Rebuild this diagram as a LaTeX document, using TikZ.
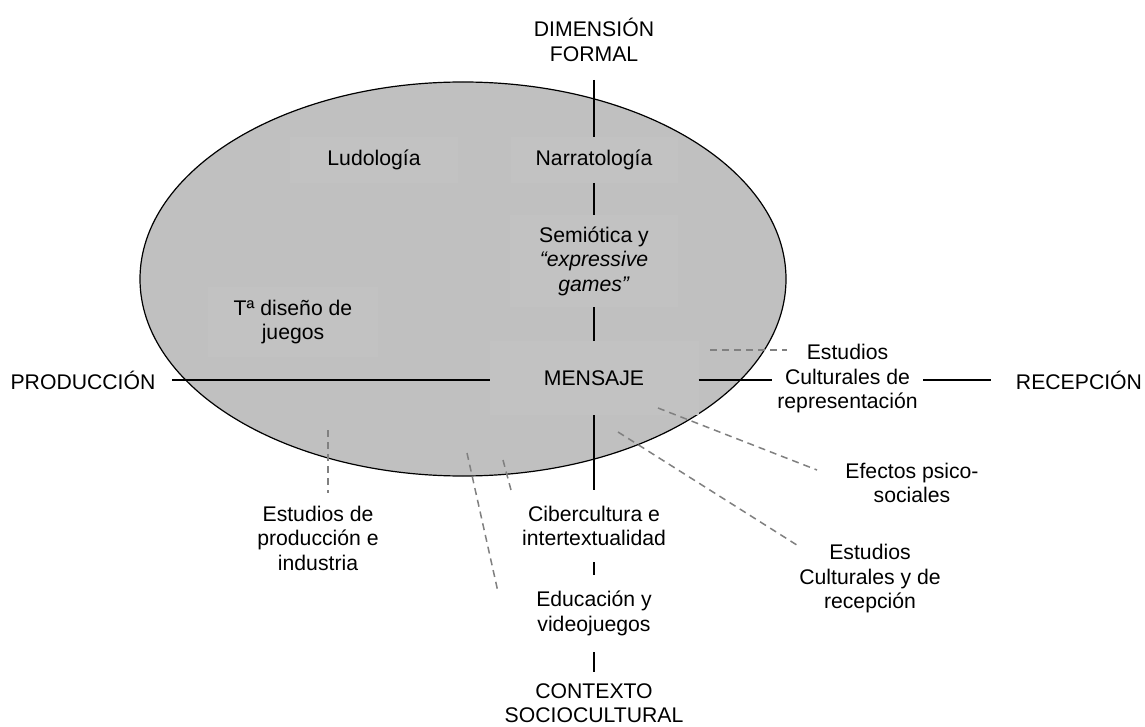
\documentclass[tikz,border=0pt]{standalone}
\usepackage{fontspec}
\setmainfont{Liberation Sans}
\definecolor{ellgray}{RGB}{192,192,192}
\definecolor{boxgray}{RGB}{194,194,194}
\definecolor{dashgray}{RGB}{128,128,128}
\newcommand{\lblfont}{\fontsize{21.2}{24.5}\selectfont}
\begin{document}
\begin{tikzpicture}[x=1pt,y=-1pt,
  lbl/.style={align=center, inner sep=0pt, outer sep=0pt, font=\lblfont},
  inbox/.style={lbl, fill=boxgray},
  axisline/.style={line width=2pt, black},
  dashline/.style={line width=1.5pt, dashgray, dash pattern=on 7pt off 5pt}]
\useasboundingbox (0,0) rectangle (1145,727);
\fill[white] (0,0) rectangle (1145,727);
% ellipse
\draw[fill=ellgray, line width=1.2pt] (463,279) ellipse [x radius=323, y radius=197];
% nodes inside ellipse
\node[inbox, minimum width=168pt, minimum height=46pt] (ludo) at (374,160) {Ludología};
\node[inbox, minimum width=167pt, minimum height=46pt] (narr) at (594,160) {Narratología};
\node[inbox, minimum width=168pt, minimum height=92pt] (semio) at (594,261) {Semiótica y\\\textit{“expressive}\\\textit{games”}};
\node[inbox, minimum width=209pt, minimum height=74pt] (mens) at (594,378) {MENSAJE};
\node[inbox, minimum width=170pt, minimum height=70pt] (tdis) at (293,322) {Tª diseño de\\juegos};
% outer nodes
\node[lbl, minimum width=170pt, minimum height=80pt] (dim) at (594,40) {DIMENSIÓN\\FORMAL};
\node[lbl, minimum width=178pt, minimum height=40pt] (prod) at (83,380) {PRODUCCIÓN};
\node[lbl, minimum width=176pt, minimum height=40pt] (recep) at (1079,380) {RECEPCIÓN};
\node[lbl, minimum width=151pt, minimum height=74pt] (cultrep) at (847.5,379) {Estudios\\Culturales de\\representación};
\node[lbl, minimum width=170pt, minimum height=72pt] (ciber) at (594,526) {Cibercultura e\\intertextualidad};
\node[lbl, minimum width=170pt, minimum height=77pt] (educ) at (594,613.5) {Educación y\\videojuegos};
\node[lbl, minimum width=200pt, minimum height=62pt] (ctx) at (594,703) {CONTEXTO\\SOCIOCULTURAL};
\node[lbl] (prodind) at (318,538) {Estudios de\\producción e\\industria};
\node[lbl] (efectos) at (912,483) {Efectos psico-\\sociales};
\node[lbl] (ecr) at (870,579) {Estudios\\Culturales y de\\recepción};
% dashed connectors
\coordinate (d1a) at (710,350); \coordinate (d1b) at (787,350);
\coordinate (d2a) at (658,408); \coordinate (d2b) at (817,470);
\coordinate (d3a) at (618,432); \coordinate (d3b) at (800,547);
\coordinate (d4a) at (467,453); \coordinate (d4b) at (498,592);
\coordinate (d5a) at (503,460); \coordinate (d5b) at (511,490);
\coordinate (d6a) at (328,430); \coordinate (d6b) at (328,493);
\draw[dashline] (d1a) -- (d1b);
\draw[dashline] (d2a) -- (d2b);
\draw[dashline] (d3a) -- (d3b);
\draw[dashline] (d4a) -- (d4b);
\draw[dashline] (d5a) -- (d5b);
\draw[dashline] (d6a) -- (d6b);
% axes
\draw[axisline] (dim) -- (narr);
\draw[axisline] (narr) -- (semio);
\draw[axisline] (semio) -- (mens);
\draw[axisline] (mens) -- (ciber);
\draw[axisline] (ciber) -- (educ);
\draw[axisline] (educ) -- (ctx);
\draw[axisline] (prod.east) -- (prod.east -| mens.west);
\draw[axisline] (mens.east |- prod.east) -- (cultrep.west |- prod.east);
\draw[axisline] (cultrep.east |- prod.east) -- (recep.west |- prod.east);
\end{tikzpicture}
\end{document}
